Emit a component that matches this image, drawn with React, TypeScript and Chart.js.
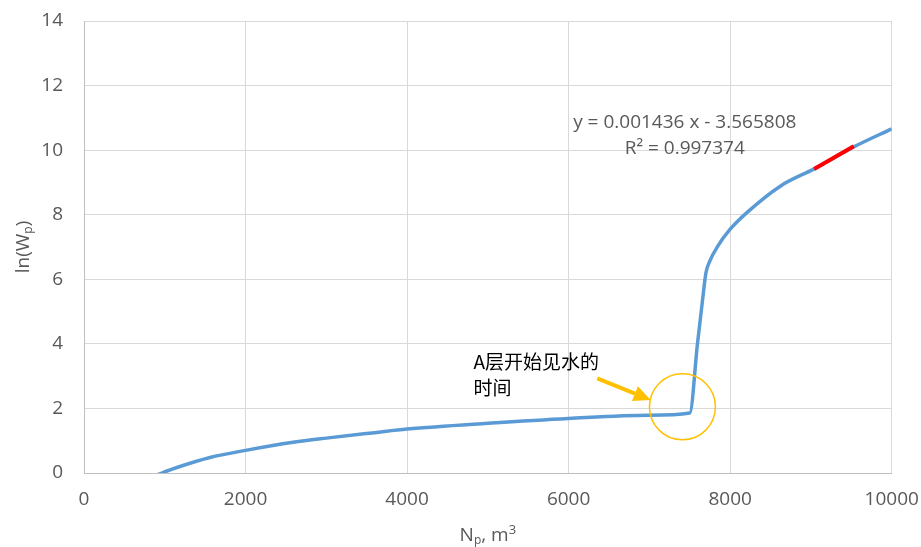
import React, { useEffect, useRef } from 'react';
import { Chart, registerables } from 'chart.js';

Chart.register(...registerables);

// Cumulative oil production Np (m3) and ln(Wp)
const npValues = [880, 1150, 1560, 2000, 2590, 3000, 3600, 4000, 5000, 6000, 7000, 7500, 7595, 7660, 7700, 7745, 7845, 8000, 8200, 8630, 9040, 9530, 10000];
const lnWpValues = [-0.08, 0.17, 0.48, 0.7, 0.95, 1.08, 1.25, 1.36, 1.54, 1.69, 1.79, 1.86, 4.0, 5.4, 6.2, 6.55, 7.02, 7.55, 8.05, 8.9, 9.42, 10.1, 10.66];

// Linear trendline segment (y = 0.001436 x - 3.565808)
const trendX = [9040, 9530];
const trendY = [9.416, 10.119];

const xMin = 0, xMax = 10000, xStep = 2000;
const yMin = 0, yMax = 14, yStep = 2;

const equationLines = ['y = 0.001436 x - 3.565808', 'R² = 0.997374'];
const equationPos = { x: 7438, y1: 10.84, y2: 10.06 };
const noteLines = ['A层开始见水的', '时间'];
const notePos = { x: 4822, y1: 3.44, y2: 2.63 };
const circleCenter = { x: 7409, y: 2.05 };
const arrowFrom = { x: 6355, y: 2.93 };
const arrowTo = { x: 7016, y: 2.26 };

const GRAY = '#595959';
const FONT = '"Open Sans", "Liberation Sans", sans-serif';

type Seg = { t: string; shift: number; size: number };

function drawRich(ctx: CanvasRenderingContext2D, segs: Seg[], cx: number, baseline: number) {
  let total = 0;
  for (const s of segs) {
    ctx.font = `${s.size}px ${FONT}`;
    total += ctx.measureText(s.t).width;
  }
  let x = cx - total / 2;
  ctx.textAlign = 'left';
  ctx.textBaseline = 'alphabetic';
  for (const s of segs) {
    ctx.font = `${s.size}px ${FONT}`;
    ctx.fillText(s.t, x, baseline + s.shift);
    x += ctx.measureText(s.t).width;
  }
}

const overlay = {
  id: 'overlay',
  afterDatasetsDraw(chart: any) {
    const { ctx } = chart;
    const xs = chart.scales.x, ys = chart.scales.y;
    const px = (v: number) => xs.getPixelForValue(v);
    const py = (v: number) => ys.getPixelForValue(v);
    ctx.save();
    // circle
    ctx.strokeStyle = '#FFC000';
    ctx.lineWidth = 1.5;
    ctx.beginPath();
    ctx.arc(px(circleCenter.x), py(circleCenter.y), 33, 0, Math.PI * 2);
    ctx.stroke();
    // arrow
    const x0 = px(arrowFrom.x), y0 = py(arrowFrom.y);
    const x1 = px(arrowTo.x), y1 = py(arrowTo.y);
    const ang = Math.atan2(y1 - y0, x1 - x0);
    const headLen = 17, headHalf = 8;
    const bx = x1 - headLen * Math.cos(ang), by = y1 - headLen * Math.sin(ang);
    ctx.strokeStyle = '#FFC000';
    ctx.fillStyle = '#FFC000';
    ctx.lineWidth = 4;
    ctx.beginPath();
    ctx.moveTo(x0, y0);
    ctx.lineTo(bx, by);
    ctx.stroke();
    ctx.beginPath();
    ctx.moveTo(x1, y1);
    ctx.lineTo(bx + headHalf * Math.sin(ang), by - headHalf * Math.cos(ang));
    ctx.lineTo(bx - headHalf * Math.sin(ang), by + headHalf * Math.cos(ang));
    ctx.closePath();
    ctx.fill();
    // note text
    ctx.fillStyle = '#000000';
    ctx.font = '19px "Noto Sans CJK SC", sans-serif';
    ctx.textAlign = 'left';
    ctx.textBaseline = 'middle';
    ctx.fillText(noteLines[0], px(notePos.x), py(notePos.y1));
    ctx.fillText(noteLines[1], px(notePos.x), py(notePos.y2));
    // equation
    ctx.fillStyle = GRAY;
    ctx.font = `19px ${FONT}`;
    ctx.textAlign = 'center';
    ctx.fillText(equationLines[0], px(equationPos.x), py(equationPos.y1));
    ctx.fillText(equationLines[1], px(equationPos.x), py(equationPos.y2));
    ctx.restore();
  },
  afterDraw(chart: any) {
    const { ctx, chartArea } = chart;
    ctx.save();
    ctx.fillStyle = GRAY;
    // x title
    const cxm = (chartArea.left + chartArea.right) / 2;
    drawRich(ctx, [
      { t: 'N', shift: 0, size: 19 },
      { t: 'p', shift: 3, size: 12 },
      { t: ', m', shift: 0, size: 19 },
      { t: '3', shift: -7, size: 13 },
    ], cxm, 541);
    // y title
    const cym = (chartArea.top + chartArea.bottom) / 2;
    ctx.translate(22, cym);
    ctx.rotate(-Math.PI / 2);
    drawRich(ctx, [
      { t: 'ln(W', shift: 0, size: 19 },
      { t: 'p', shift: 3, size: 12 },
      { t: ')', shift: 0, size: 19 },
    ], 0, 7);
    ctx.restore();
  },
};

export default function App() {
  const ref = useRef<HTMLCanvasElement | null>(null);
  useEffect(() => {
    if (!ref.current) return;
    const chart = new Chart(ref.current, {
      type: 'line',
      data: {
        datasets: [
          {
            label: 'trend',
            data: trendX.map((x, i) => ({ x, y: trendY[i] })),
            borderColor: '#FF0000',
            borderWidth: 4,
            pointRadius: 0,
            fill: false,
          },
          {
            label: 'ln(Wp)',
            data: npValues.map((x, i) => ({ x, y: lnWpValues[i] })),
            borderColor: '#5B9BD5',
            borderWidth: 3.5,
            pointRadius: 0,
            cubicInterpolationMode: 'monotone',
            fill: false,
          },
        ],
      },
      options: {
        animation: false,
        responsive: false,
        devicePixelRatio: 1,
        layout: { padding: { left: 0, right: 29.3, top: 21, bottom: 0 } },
        plugins: { legend: { display: false }, tooltip: { enabled: false } },
        scales: {
          x: {
            type: 'linear',
            min: xMin,
            max: xMax,
            ticks: {
              stepSize: xStep,
              color: GRAY,
              font: { family: FONT, size: 19 },
              padding: 15,
              maxRotation: 0,
              callback: (v: any) => String(v),
            },
            grid: { color: '#d9d9d9', drawTicks: false, lineWidth: 1 },
            border: { color: '#bfbfbf', width: 1 },
            afterFit: (s: any) => {
              s.height = 74;
              s.paddingLeft = 0;
              s.paddingRight = 0;
            },
          },
          y: {
            type: 'linear',
            min: yMin,
            max: yMax,
            ticks: {
              stepSize: yStep,
              color: GRAY,
              font: { family: FONT, size: 19 },
              padding: 21,
              callback: (v: any) => String(v),
            },
            grid: { color: '#d9d9d9', drawTicks: false, lineWidth: 1 },
            border: { color: '#bfbfbf', width: 1 },
            afterFit: (s: any) => {
              s.width = 84;
              s.paddingTop = 0;
              s.paddingBottom = 0;
            },
          },
        },
      } as any,
      plugins: [overlay],
    });
    return () => chart.destroy();
  }, []);
  return (
    <div style={{ position: 'fixed', left: 0, top: 0, width: 921, height: 547, background: '#fff' }}>
      <canvas ref={ref} width={921} height={547} style={{ display: 'block' }} />
    </div>
  );
}
